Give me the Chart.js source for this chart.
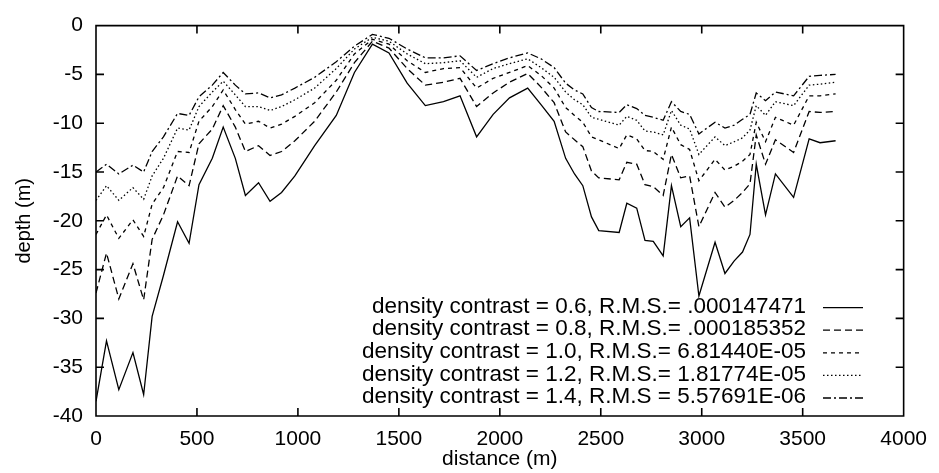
<!DOCTYPE html>
<html lang="en">
  <head>
    <meta charset="UTF-8" />
    <title>depth vs distance</title>
    <script src="https://cdn.jsdelivr.net/npm/chart.js"></script>
    <style>
      body {
        margin: 0;
        padding: 0;
        background: #fff;
      }
      #wrap {
        width: 939px;
        height: 473px;
      }
    </style>
  </head>
  <body>
    <div id="wrap"><canvas id="depthChart" width="939" height="473"></canvas></div>

    <script>
      // distance along profile (m)
      const distance = [
        0, 52, 113, 183, 236, 278, 334, 404, 461, 510, 576, 630, 690, 740, 805,
        862, 919, 985, 1083, 1190, 1280, 1369, 1451, 1541, 1631, 1721, 1803,
        1885, 1967, 2048, 2138, 2204, 2269, 2326, 2370, 2411, 2454, 2490, 2591,
        2629, 2678, 2719, 2760, 2809, 2850, 2896, 2940, 2986, 3066, 3115, 3161,
        3202, 3239, 3270, 3316, 3365, 3455, 3532, 3586, 3663,
      ];

      const depth06 = [
        -38.5, -32.3, -37.3, -33.5, -37.8, -29.8, -25.6, -20.1, -22.3, -16.3,
        -13.6, -10.4, -13.6, -17.4, -16.1, -18.0, -17.1, -15.4, -12.3, -9.2,
        -4.8, -1.9, -2.8, -5.9, -8.2, -7.8, -7.2, -11.4, -9.1, -7.4,
        -6.4, -8.1, -9.8, -13.6, -15.2, -16.4, -19.6, -21.0, -21.2, -18.2,
        -18.7, -22.0, -22.1, -23.6, -16.4, -20.6, -19.7, -27.7, -22.2, -25.4,
        -24.1, -23.2, -21.4, -14.2, -19.4, -15.2, -17.6, -11.6, -12.0, -11.8,
      ];
      const depth08 = [
        -27.4, -23.3, -28.0, -24.4, -28.1, -21.9, -19.4, -15.4, -16.4, -12.1,
        -10.6, -8.2, -10.4, -12.9, -12.3, -13.3, -12.9, -11.8, -9.8, -6.8,
        -3.8, -1.6, -2.3, -4.4, -6.1, -5.8, -5.4, -8.3, -6.9, -5.8,
        -4.9, -6.3, -7.9, -10.9, -11.7, -12.4, -14.9, -15.6, -15.8, -14.0,
        -14.2, -16.3, -16.5, -17.4, -13.2, -15.6, -15.4, -20.6, -17.1, -18.6,
        -17.9, -17.1, -16.2, -11.2, -14.2, -11.7, -13.0, -8.8, -8.9, -8.8,
      ];
      const depth10 = [
        -21.4, -19.4, -21.8, -19.9, -21.6, -18.3, -16.6, -12.9, -13.0, -9.8,
        -8.3, -6.6, -8.6, -10.1, -9.8, -10.5, -10.1, -9.3, -7.9, -5.6,
        -2.9, -1.4, -1.9, -3.6, -4.8, -4.4, -4.3, -6.4, -5.4, -4.8,
        -4.1, -5.1, -6.4, -8.4, -9.2, -9.9, -11.4, -11.7, -12.6, -11.2,
        -11.6, -12.8, -12.9, -13.7, -10.4, -12.2, -12.7, -15.9, -13.7, -14.8,
        -14.4, -13.9, -13.2, -9.9, -11.9, -9.4, -10.2, -7.2, -7.2, -7.0,
      ];
      const depth12 = [
        -17.9, -16.4, -17.9, -16.6, -17.8, -15.4, -13.6, -10.5, -10.7, -8.3,
        -6.8, -5.7, -7.1, -8.3, -8.3, -8.7, -8.3, -7.6, -6.4, -4.4,
        -2.4, -1.2, -1.6, -2.9, -3.9, -3.8, -3.6, -5.3, -4.4, -3.9,
        -3.4, -4.3, -5.3, -6.8, -7.6, -8.1, -9.4, -9.6, -10.2, -9.3,
        -9.7, -10.8, -10.9, -11.2, -8.7, -10.2, -10.6, -13.2, -11.4, -12.3,
        -11.9, -11.5, -10.7, -8.2, -9.2, -7.8, -8.2, -6.1, -6.0, -5.8,
      ];
      const depth14 = [
        -15.0, -14.2, -15.2, -14.3, -15.0, -12.9, -11.4, -9.0, -9.2, -7.3,
        -6.1, -4.8, -6.1, -7.0, -6.9, -7.4, -7.1, -6.4, -5.3, -3.7,
        -2.1, -0.9, -1.3, -2.4, -3.3, -3.3, -3.1, -4.6, -3.9, -3.3,
        -2.8, -3.4, -4.3, -5.9, -6.6, -7.0, -8.4, -8.8, -8.9, -8.1,
        -8.5, -9.2, -9.4, -9.7, -7.8, -8.8, -9.1, -11.1, -9.9, -10.5,
        -10.2, -9.6, -9.1, -6.9, -7.7, -6.8, -7.2, -5.2, -5.1, -5.0,
      ];

      const seriesLabels = [
        "density contrast = 0.6, R.M.S.= .000147471",
        "density contrast = 0.8, R.M.S.= .000185352",
        "density contrast = 1.0, R.M.S.= 6.81440E-05",
        "density contrast = 1.2, R.M.S.= 1.81774E-05",
        "density contrast = 1.4, R.M.S = 5.57691E-06",
      ];
      const seriesData = [depth06, depth08, depth10, depth12, depth14];
      const seriesDash = [[], [7, 4], [4, 4], [1.5, 2.5], [8, 3, 2, 3]];

      const xTicks = [0, 500, 1000, 1500, 2000, 2500, 3000, 3500, 4000];
      const yTicks = [0, -5, -10, -15, -20, -25, -30, -35, -40];

      const FONT = "'Liberation Sans', Arial, sans-serif";

      const datasets = seriesData.map((vals, i) => ({
        label: seriesLabels[i],
        data: vals.map((v, j) => ({ x: distance[j], y: v })),
        borderColor: "#000",
        borderWidth: 1.3,
        borderDash: seriesDash[i],
        pointRadius: 0,
        tension: 0,
        fill: false,
      }));

      // frame with inward ticks on all sides, plus the key in the lower right
      const overlayPlugin = {
        id: "overlay",
        afterDraw(chart) {
          const { ctx, chartArea: a, scales } = chart;
          ctx.save();
          ctx.setLineDash([]);
          ctx.strokeStyle = "#000";
          ctx.lineWidth = 1.6;
          ctx.beginPath();
          ctx.rect(a.left, a.top, a.right - a.left, a.bottom - a.top);
          xTicks.forEach((t) => {
            const px = scales.x.getPixelForValue(t);
            ctx.moveTo(px, a.bottom);
            ctx.lineTo(px, a.bottom - 8);
            ctx.moveTo(px, a.top);
            ctx.lineTo(px, a.top + 8);
          });
          yTicks.forEach((t) => {
            const py = scales.y.getPixelForValue(t);
            ctx.moveTo(a.left, py);
            ctx.lineTo(a.left + 8, py);
            ctx.moveTo(a.right, py);
            ctx.lineTo(a.right - 8, py);
          });
          ctx.stroke();

          ctx.font = "22.5px " + FONT;
          ctx.fillStyle = "#000";
          ctx.textAlign = "right";
          ctx.textBaseline = "middle";
          chart.data.datasets.forEach((ds, i) => {
            const y = a.top + 281 + i * 22.6;
            ctx.fillText(ds.label, a.left + 710, y);
            ctx.beginPath();
            ctx.setLineDash(ds.borderDash);
            ctx.lineWidth = 1.3;
            ctx.moveTo(a.left + 727, y + 1);
            ctx.lineTo(a.left + 767, y + 1);
            ctx.stroke();
          });
          ctx.restore();
        },
      };

      new Chart(document.getElementById("depthChart").getContext("2d"), {
        type: "line",
        data: { datasets },
        options: {
          responsive: false,
          animation: false,
          layout: { padding: { left: 12, right: 28, top: 17, bottom: 2 } },
          plugins: {
            legend: { display: false },
            tooltip: { enabled: false },
          },
          scales: {
            x: {
              type: "linear",
              min: 0,
              max: 4000,
              afterBuildTicks: (s) => {
                s.ticks = xTicks.map((v) => ({ value: v }));
              },
              ticks: {
                color: "#000",
                font: { family: FONT, size: 21, lineHeight: 1.1 },
                padding: 12,
                maxRotation: 0,
                autoSkip: false,
                callback: (v) => String(v),
              },
              grid: { display: false, drawTicks: false },
              border: { display: false },
              title: {
                display: true,
                text: "distance (m)",
                color: "#000",
                font: { family: FONT, size: 21, lineHeight: 1.1 },
                padding: { top: 0, bottom: 0 },
              },
              afterFit: (s) => {
                s.height = 55;
              },
            },
            y: {
              type: "linear",
              min: -40,
              max: 0,
              afterBuildTicks: (s) => {
                s.ticks = yTicks.map((v) => ({ value: v }));
              },
              ticks: {
                color: "#000",
                font: { family: FONT, size: 21 },
                padding: 13,
                autoSkip: false,
              },
              grid: { display: false, drawTicks: false },
              border: { display: false },
              title: {
                display: true,
                text: "depth (m)",
                color: "#000",
                font: { family: FONT, size: 20 },
                padding: { top: 0, bottom: 0 },
              },
              afterFit: (s) => {
                s.width = 84;
              },
            },
          },
        },
        plugins: [overlayPlugin],
      });
    </script>
  </body>
</html>
